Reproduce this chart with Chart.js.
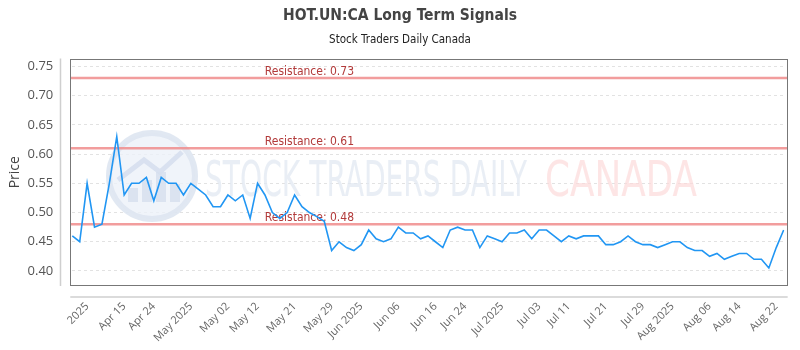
<!DOCTYPE html>
<html><head><meta charset="utf-8">
<script src="https://cdn.jsdelivr.net/npm/chart.js@4.4.1/dist/chart.umd.min.js"></script>
<style>html,body{margin:0;padding:0;background:#fff}#wrap{width:800px;height:350px}</style>
</head><body><div id="wrap"><canvas id="c" width="800" height="350"></canvas></div>
<script>
const prices = [0.46,0.45,0.55,0.475,0.48,0.55,0.63,0.53,0.55,0.55,
0.56,0.52,0.56,0.55,0.55,0.53,0.55,0.54,0.53,0.51,
0.51,0.53,0.52,0.53,0.49,0.55,0.53,0.50,0.49,0.50,
0.53,0.51,0.50,0.493,0.485,0.435,0.45,0.44,0.435,0.445,
0.47,0.455,0.45,0.455,0.475,0.465,0.465,0.455,0.46,0.45,
0.44,0.47,0.475,0.47,0.47,0.44,0.46,0.455,0.45,0.465,
0.465,0.47,0.455,0.47,0.47,0.46,0.45,0.46,0.455,0.46,
0.46,0.46,0.445,0.445,0.45,0.46,0.45,0.445,0.445,0.44,
0.445,0.45,0.45,0.44,0.435,0.435,0.425,0.43,0.42,0.425,
0.43,0.43,0.42,0.42,0.405,0.44,0.47];
const tickLabels = ["2025","Apr 15","Apr 24","May 2025","May 02","May 12","May 21","May 29","Jun 2025","Jun 06","Jun 16","Jun 24","Jul 2025","Jul 03","Jul 11","Jul 21","Jul 29","Aug 2025","Aug 06","Aug 14","Aug 22"];
const tickIndex = [2,7,11,16,21,25,30,35,39,44,49,53,58,63,67,72,77,81,86,90,95];
const resistance = [0.73, 0.61, 0.48];
const yTicks = [0.40,0.45,0.50,0.55,0.60,0.65,0.70,0.75];
const yMin = 0.376, yMax = 0.762;

const categories = prices.map((_, i) => {
  const k = tickIndex.indexOf(i);
  return k >= 0 ? tickLabels[k] : '';
});

const FONT = "'Open Sans', 'Noto Sans', sans-serif";
const COND = "'DejaVu Sans Condensed', 'Roboto', sans-serif";

function fitText(ctx, text, x, y, w, font, color) {
  ctx.save();
  ctx.font = font;
  const m = ctx.measureText(text).width;
  ctx.translate(x, y);
  ctx.scale(w / m, 1);
  ctx.fillStyle = color;
  ctx.textAlign = 'left';
  ctx.textBaseline = 'alphabetic';
  ctx.fillText(text, 0, 0);
  ctx.restore();
}

const deco = {
  id: 'deco',
  beforeDatasetsDraw(chart) {
    const {ctx, chartArea: a, scales: {y}} = chart;
    ctx.save();
    const cx = 152, cy = 176, r = 43;
    ctx.beginPath(); ctx.arc(cx, cy, r, 0, Math.PI * 2);
    ctx.fillStyle = 'rgba(236,241,249,0.8)'; ctx.fill();
    ctx.lineWidth = 6; ctx.strokeStyle = 'rgba(222,229,241,0.9)'; ctx.stroke();
    ctx.fillStyle = 'rgba(214,223,238,0.8)';
    [[-24,14,10],[-10,22,10],[4,30,10],[18,18,10]].forEach(([dx,h,w]) => {
      ctx.fillRect(cx + dx, cy + 26 - h, w, h);
    });
    ctx.beginPath();
    ctx.moveTo(cx - 34, cy + 4); ctx.lineTo(cx - 8, cy - 16); ctx.lineTo(cx + 8, cy - 4); ctx.lineTo(cx + 30, cy - 24);
    ctx.lineWidth = 5; ctx.strokeStyle = 'rgba(214,223,238,0.9)'; ctx.stroke();
    ctx.restore();
    fitText(ctx, 'STOCK TRADERS DAILY', 205, 196, 322, "50px " + COND, 'rgba(226,232,242,0.75)');
    fitText(ctx, 'CANADA', 545, 196, 152, "50px " + COND, 'rgba(252,218,218,0.7)');
    ctx.save();
    resistance.forEach(v => {
      const py = y.getPixelForValue(v);
      ctx.beginPath();
      ctx.moveTo(a.left - 2, py); ctx.lineTo(a.right + 4, py);
      ctx.lineWidth = 2.5; ctx.strokeStyle = 'rgba(240,140,140,0.85)'; ctx.stroke();
      ctx.font = "12px " + COND;
      ctx.fillStyle = '#b23a3a';
      ctx.textAlign = 'center'; ctx.textBaseline = 'alphabetic';
      ctx.fillText('Resistance: ' + v.toFixed(2), a.left + (a.right - a.left) / 3, py - 3);
    });
    ctx.restore();
  },
  afterDraw(chart) {
    const {ctx, chartArea: a} = chart;
    ctx.save();
    ctx.strokeStyle = '#777'; ctx.lineWidth = 1;
    ctx.strokeRect(Math.round(a.left - 2) + 0.5, Math.round(a.top) + 0.5, Math.round(a.right - a.left + 6), Math.round(a.bottom - a.top));
    ctx.strokeStyle = '#cfcfcf'; ctx.lineWidth = 1.5;
    ctx.beginPath();
    ctx.moveTo(60.5, a.top - 1); ctx.lineTo(60.5, a.bottom + 1);
    ctx.moveTo(a.left - 2, a.bottom + 12); ctx.lineTo(a.right + 4, a.bottom + 12);
    ctx.stroke();
    ctx.restore();
  }
};

new Chart(document.getElementById('c'), {
  type: 'line',
  data: {
    labels: categories,
    datasets: [{
      data: prices,
      borderColor: '#2196f3',
      borderWidth: 1.6,
      pointRadius: 0,
      tension: 0,
      fill: false
    }]
  },
  options: {
    responsive: false,
    animation: false,
    devicePixelRatio: 1,
    layout: {padding: {left: 13, right: 13, top: 0, bottom: 0}},
    plugins: {
      legend: {display: false},
      tooltip: {enabled: false},
      title: {display: true, text: 'HOT.UN:CA Long Term Signals', color: '#444',
        font: {family: COND, size: 15.5, weight: 'bold'}, padding: {top: 7, bottom: 7}},
      subtitle: {display: true, text: 'Stock Traders Daily Canada', color: '#222',
        font: {family: COND, size: 11.5}, padding: {top: 1, bottom: 12}}
    },
    scales: {
      x: {
        type: 'category',
        grid: {display: false},
        border: {display: false},
        ticks: {autoSkip: false, minRotation: 45, maxRotation: 45, padding: 7,
          color: '#666', font: {family: FONT, size: 11}},
        afterFit(s) { s.height = 65; }
      },
      y: {
        min: yMin, max: yMax,
        afterBuildTicks(s) { s.ticks = yTicks.map(v => ({value: v})); },
        grid: {color: '#e2e2e2', drawTicks: false},
        border: {display: false, dash: [3, 3]},
        ticks: {padding: 19, color: '#555', font: {family: FONT, size: 13},
          callback: v => Number(v).toFixed(2)},
        title: {display: true, text: 'Price', color: '#444', font: {family: FONT, size: 14}, padding: {top: -6, bottom: 0}},
        afterFit(s) { s.width = 59.3; }
      }
    }
  },
  plugins: [deco]
});
</script>
</body></html>
